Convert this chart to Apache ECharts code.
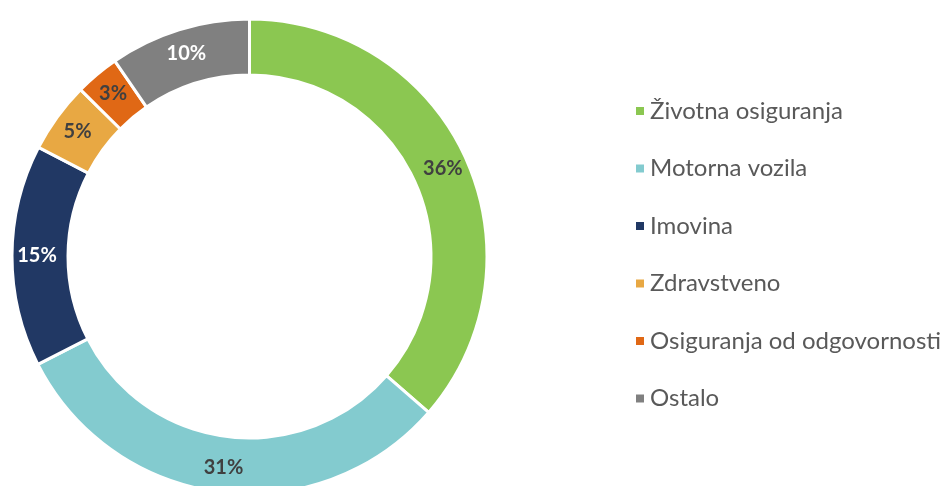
<!DOCTYPE html>
<html>
<head>
<meta charset="utf-8">
<script src="https://cdn.jsdelivr.net/npm/echarts@6/dist/echarts.min.js"></script>
<style>
  html, body { margin: 0; padding: 0; background: #fff; }
  #chart { width: 950px; height: 486px; }
</style>
</head>
<body>
<div id="chart"></div>
<script>
var categories = ['Životna osiguranja', 'Motorna vozila', 'Imovina', 'Zdravstveno', 'Osiguranja od odgovornosti', 'Ostalo'];
var values = [36.4, 31.1, 15.1, 4.8, 3.0, 9.6];
var colors = ['#8bc751', '#83cbcf', '#213864', '#e8a843', '#e06815', '#808080'];
var labelColors = ['#404040', '#404040', '#ffffff', '#404040', '#404040', '#ffffff'];

var myChart = echarts.init(document.getElementById('chart'));

var pieData = [];
for (var i = 0; i < categories.length; i++) {
    pieData.push({
        name: categories[i],
        value: values[i],
        label: { color: labelColors[i] }
    });
}

var option = {
    backgroundColor: '#ffffff',
    color: colors,
    legend: {
        orient: 'vertical',
        left: 629,
        top: 94,
        itemWidth: 10,
        itemHeight: 10,
        itemGap: 33.5,
        icon: 'rect',
        textStyle: {
            fontFamily: 'Lato',
            fontSize: 24,
            lineHeight: 24,
            color: '#595959',
            padding: [0, 0, 0, 0]
        },
        data: categories
    },
    series: [
        {
            type: 'pie',
            center: [249.5, 256.5],
            radius: [181.5, 237.5],
            startAngle: 90,
            clockwise: true,
            avoidLabelOverlap: false,
            silent: true,
            itemStyle: {
                borderColor: '#ffffff',
                borderWidth: 3
            },
            label: {
                show: true,
                position: 'inside',
                fontFamily: 'Lato',
                fontWeight: 'bold',
                fontSize: 20,
                formatter: function (p) { return Math.round(p.percent) + '%'; }
            },
            labelLine: { show: false },
            data: pieData
        }
    ]
};

myChart.setOption(option);
</script>
</body>
</html>
